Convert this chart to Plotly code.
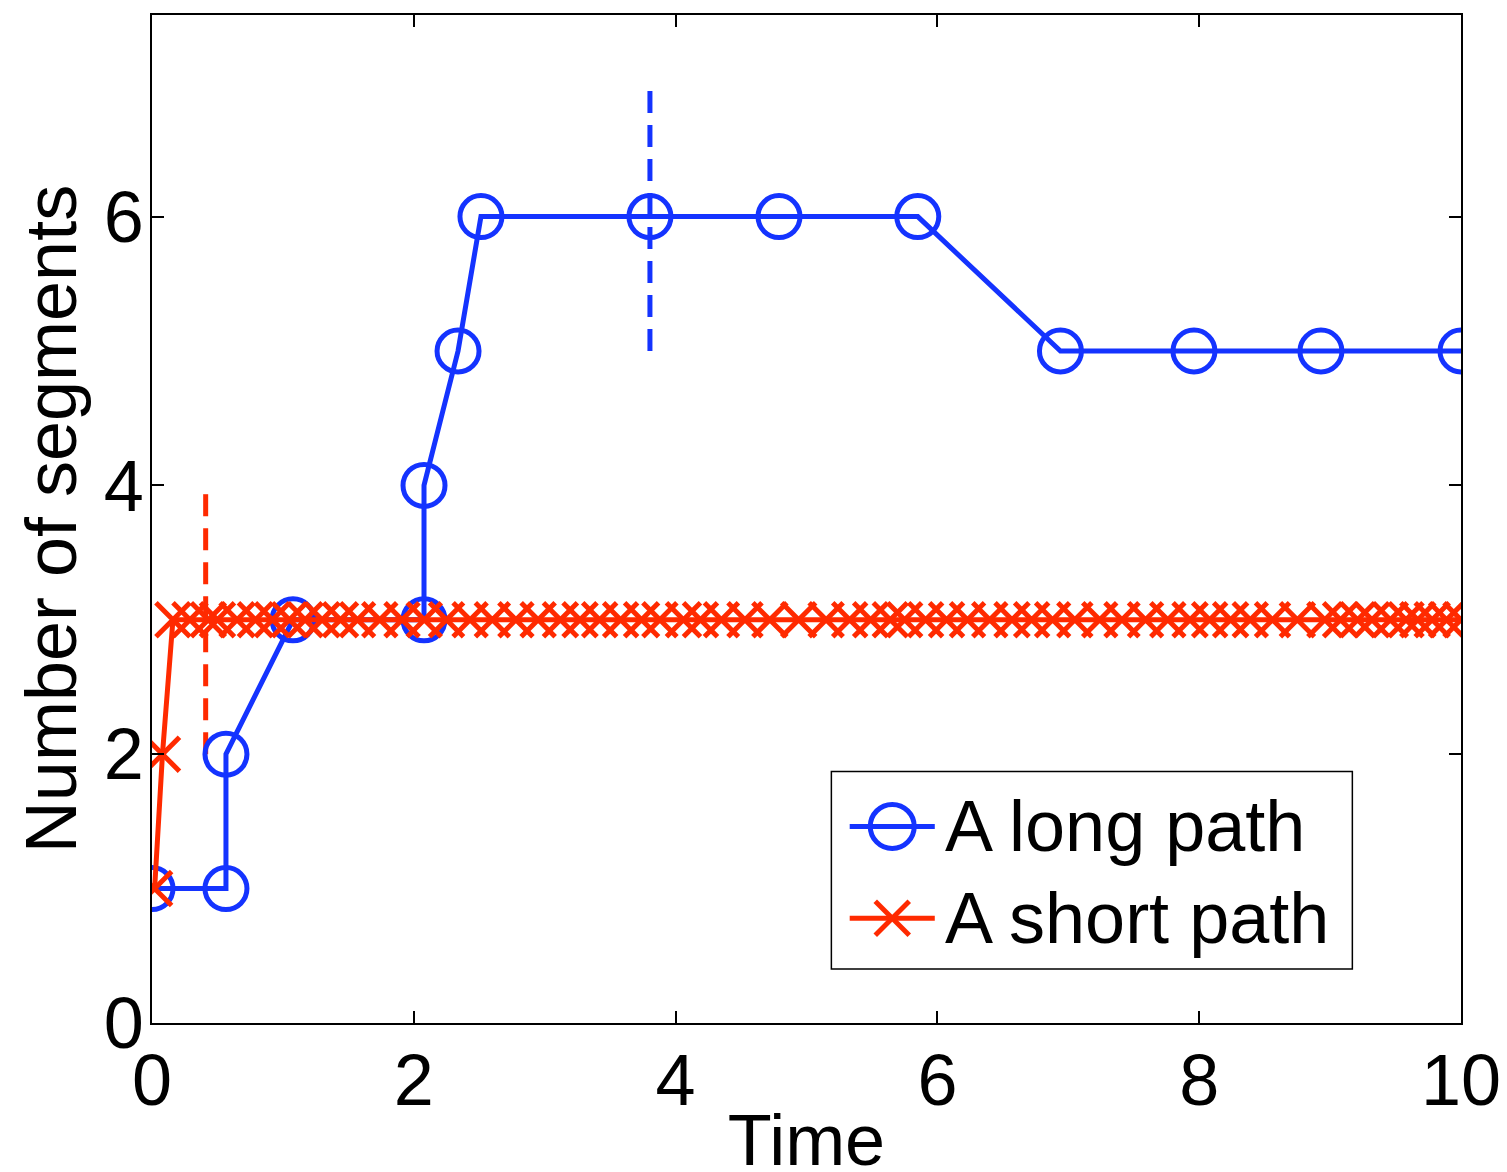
import plotly.graph_objects as go

# Data
long_t = [0.0, 0.565, 0.565, 1.077, 2.078, 2.078, 2.338, 2.513, 3.804, 4.79, 5.85, 6.94, 7.96, 8.93, 10.0]
long_n = [1, 1, 2, 3, 3, 4, 5, 6, 6, 6, 6, 5, 5, 5, 5]

short_t = [0.02, 0.08, 0.16, 0.29, 0.43, 0.50, 0.65, 0.79, 0.92, 1.05, 1.17, 1.30, 1.44, 1.57,
           1.74, 1.91, 2.08, 2.25, 2.43, 2.60, 2.78, 2.95, 3.12, 3.27, 3.42, 3.58, 3.74, 3.88,
           4.06, 4.19, 4.35, 4.53, 4.72, 4.94, 5.15, 5.33, 5.49, 5.64, 5.75, 5.91, 6.07, 6.23,
           6.40, 6.57, 6.72, 6.88, 7.05, 7.24, 7.41, 7.59, 7.76, 7.93, 8.08, 8.24, 8.39, 8.56,
           8.75, 8.96, 9.08, 9.21, 9.32, 9.46, 9.58, 9.67, 9.78, 9.89, 10.0]
short_n = [1, 2] + [3] * (len(short_t) - 2)

long_mark_t = [3.804, 3.804]
long_mark_n = [5, 7]
short_mark_t = [0.41, 0.41]
short_mark_n = [2, 4]

x_ticks = [0, 2, 4, 6, 8, 10]
y_ticks = [0, 2, 4, 6]

BLUE = "#1433ff"
RED = "#ff2a00"
FONT = "Liberation Sans, Arial, Helvetica, sans-serif"
FS = 72

fig = go.Figure()
fig.add_trace(go.Scatter(x=short_mark_t, y=short_mark_n, mode="lines",
                         line=dict(color=RED, width=5, dash="22px,12px"), showlegend=False))
fig.add_trace(go.Scatter(x=long_mark_t, y=long_mark_n, mode="lines",
                         line=dict(color=BLUE, width=5, dash="22px,12px"), showlegend=False))
fig.add_trace(go.Scatter(x=long_t, y=long_n, mode="lines+markers", name="A long path",
                         line=dict(color=BLUE, width=5),
                         marker=dict(symbol="circle-open", size=42, color=BLUE,
                                     line=dict(color=BLUE, width=5)),
                         showlegend=False))
fig.add_trace(go.Scatter(x=short_t, y=short_n, mode="lines+markers", name="A short path",
                         line=dict(color=RED, width=5),
                         marker=dict(symbol="x-thin-open", size=34, color=RED,
                                     line=dict(color=RED, width=5)),
                         showlegend=False))

# Manual legend (decoration in paper coordinates)
shapes = [dict(type="rect", xref="paper", yref="paper", x0=0.519, x1=0.917, y0=0.0535, y1=0.2495,
               line=dict(color="black", width=1.5), fillcolor="white", layer="above")]
rows = [(0.195, BLUE, "A long path", "circle"), (0.104, RED, "A short path", "x")]
annotations = []
for yy, col, label, kind in rows:
    shapes.append(dict(type="line", xref="paper", yref="paper", x0=0.533, x1=0.598, y0=yy, y1=yy,
                       line=dict(color=col, width=5), layer="above"))
    if kind == "circle":
        shapes.append(dict(type="circle", xref="paper", yref="paper", xsizemode="pixel",
                           ysizemode="pixel", xanchor=0.5655, yanchor=yy, x0=-22, x1=22, y0=-22, y1=22,
                           line=dict(color=col, width=5), layer="above"))
    else:
        for s in (1, -1):
            shapes.append(dict(type="line", xref="paper", yref="paper", xsizemode="pixel",
                               ysizemode="pixel", xanchor=0.5655, yanchor=yy, x0=-17, x1=17,
                               y0=-17 * s, y1=17 * s, line=dict(color=col, width=5), layer="above"))
    annotations.append(dict(xref="paper", yref="paper", x=0.604, y=yy, text=label, showarrow=False,
                            xanchor="left", yanchor="middle", font=dict(family=FONT, size=FS, color="black")))

fig.update_layout(
    width=1507, height=1172,
    margin=dict(l=144, r=54, t=5, b=157),
    plot_bgcolor="white", paper_bgcolor="white",
    font=dict(family=FONT, size=FS, color="black"),
    shapes=shapes, annotations=annotations,
    xaxis=dict(range=[0, 10], tickvals=x_ticks, ticks="inside", ticklen=12, tickwidth=1.5,
               tickcolor="black", showline=True, linecolor="black", linewidth=1.5, mirror="ticks",
               showgrid=False, zeroline=False, ticklabelstandoff=-6,
               title=dict(text="Time", standoff=0, font=dict(size=FS))),
    yaxis=dict(range=[0, 7.5], tickvals=y_ticks, ticks="inside", ticklen=12, tickwidth=1.5,
               tickcolor="black", showline=True, linecolor="black", linewidth=1.5, mirror="ticks",
               showgrid=False, zeroline=False, ticklabelstandoff=-8,
               title=dict(text="Number of segments", standoff=4, font=dict(size=FS))),
)

fig.write_html("out.html")
